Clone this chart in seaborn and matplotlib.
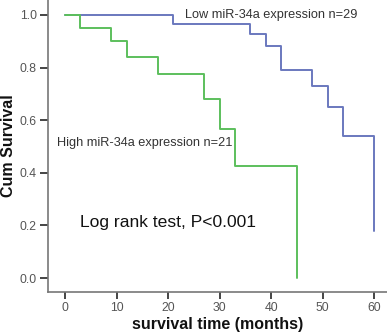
import matplotlib
matplotlib.use("Agg")
import matplotlib.pyplot as plt
import seaborn as sns
import pandas as pd

# Kaplan-Meier step data
low_time = [0, 21, 36, 39, 42, 48, 51, 54, 60]
low_surv = [1.0, 0.965, 0.927, 0.883, 0.791, 0.73, 0.649, 0.54, 0.18]
high_time = [0, 3, 9, 12, 18, 27, 30, 33, 45]
high_surv = [1.0, 0.95, 0.90, 0.84, 0.774, 0.68, 0.565, 0.427, 0.0]

x_ticks = [0, 10, 20, 30, 40, 50, 60]
y_ticks = [0.0, 0.2, 0.4, 0.6, 0.8, 1.0]

low_label = "Low miR-34a expression n=29"
high_label = "High miR-34a expression n=21"
test_label = "Log rank test, P<0.001"

sns.set_style("ticks")
plt.rcParams['font.family'] = ['Liberation Sans', 'DejaVu Sans']

fig = plt.figure(figsize=(3.87, 3.32), dpi=100)
ax = fig.add_axes([48/387, 1 - 292/332, 1 - 48/387, 292/332])

df_low = pd.DataFrame({"t": low_time, "s": low_surv})
df_high = pd.DataFrame({"t": high_time, "s": high_surv})

sns.lineplot(data=df_low, x="t", y="s", drawstyle="steps-post",
             color="#6a78be", linewidth=1.4, ax=ax, estimator=None)
sns.lineplot(data=df_high, x="t", y="s", drawstyle="steps-post",
             color="#5cbf5c", linewidth=1.4, ax=ax, estimator=None)

ax.set_xlim(-3.3, 62.5)
ax.set_ylim(-0.053, 1.057)
ax.set_xticks(x_ticks)
ax.set_yticks(y_ticks)
ax.set_yticklabels([f"{v:.1f}" for v in y_ticks])

for s in ["top", "right"]:
    ax.spines[s].set_visible(False)
for s in ["left", "bottom"]:
    ax.spines[s].set_color("#777777")
    ax.spines[s].set_linewidth(1.2)

ax.tick_params(axis="both", direction="out", length=5, width=1.4,
               bottom=True, left=True,
               color="#444444", labelcolor="#555555", labelsize=8.8, pad=2)
ax.tick_params(axis="y", length=6)

ax.set_xlabel("survival time (months)", fontsize=11.5, fontweight="bold",
              labelpad=2, color="#111111")
ax.set_ylabel("Cum Survival", fontsize=11.5, fontweight="bold", labelpad=3,
              color="#111111")

ax.text(23.2, 1.0, low_label, fontsize=9.2, color="#333333",
        ha="left", va="center")
ax.text(-1.5, 0.513, high_label, fontsize=9.2, color="#333333",
        ha="left", va="center")
ax.text(3.0, 0.21, test_label, fontsize=12.6, color="#111111",
        ha="left", va="center")

fig.savefig("out.png", dpi=100)
